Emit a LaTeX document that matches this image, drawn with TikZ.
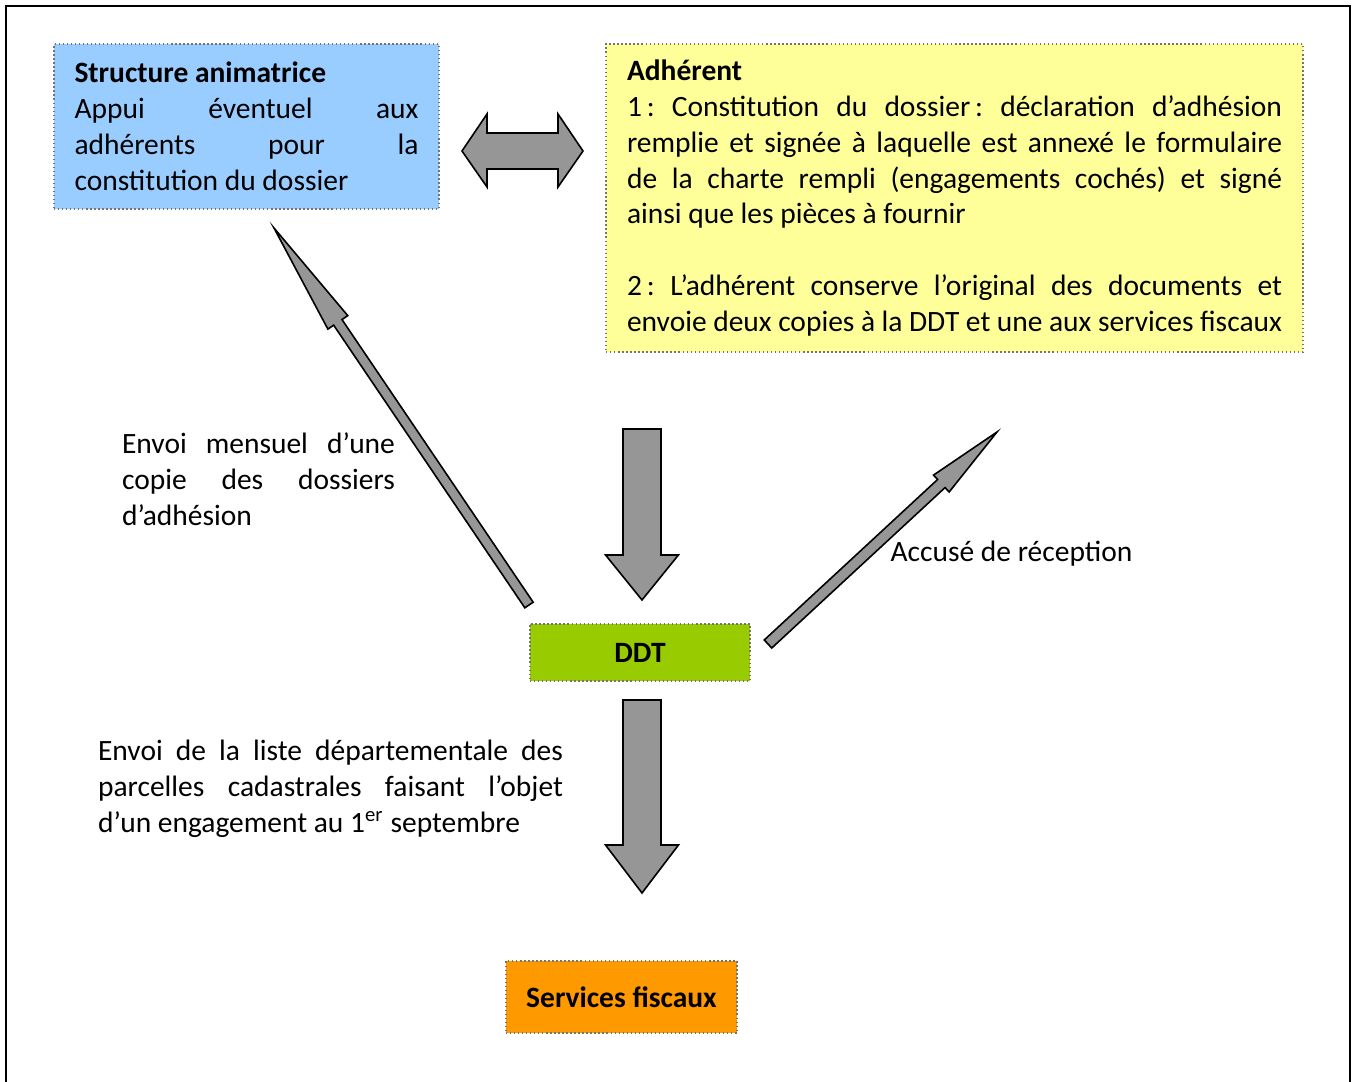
\documentclass[tikz,border=0pt]{standalone}
\usepackage{fontspec}
\setmainfont{Carlito}
\usetikzlibrary{calc}
\definecolor{animblue}{RGB}{153,204,255}
\definecolor{adhyellow}{RGB}{255,255,153}
\definecolor{ddtgreen}{RGB}{153,204,0}
\definecolor{fiscorange}{RGB}{255,153,0}
\definecolor{arrgray}{RGB}{150,150,150}
% one justified line of a fixed-width node
\newcommand{\jline}[1]{{\frenchspacing\spaceskip=0.23em plus 1fil minus 0.08em\makebox[\hsize][s]{#1}}}
% block arrow: tail, tip, shaft half width, head half width, head length
\newcommand{\blockarrow}[5]{%
  \coordinate (hb) at ($(#2)!#5!(#1)$);
  \draw[barrow] ($(#1)!#3!90:(#2)$) -- ($(hb)!#3!90:(#2)$) -- ($(hb)!#4!90:(#2)$)
    -- (#2) -- ($(hb)!#4!-90:(#2)$) -- ($(hb)!#3!-90:(#2)$) -- ($(#1)!#3!-90:(#2)$) -- cycle;
}

\begin{document}
\frenchspacing
\begin{tikzpicture}[x=0.373pt, y=-0.373pt,
      every node/.style={font=\fontsize{11}{13.4}\selectfont},
      box/.style={draw=black!55, densely dotted, line width=0.5pt, align=flush left},
      barrow/.style={fill=arrgray, draw=black, line width=0.6pt, line join=miter},
      txt/.style={inner sep=0pt, align=flush left},
      frame/.style={draw=black, line width=0.8pt}]
  \useasboundingbox (0,0) rectangle (1354,1082);
  \draw[frame] (6,1082) -- (6,6) -- (1350,6) -- (1350,1082);

  % boxes
  \node[box, fill=animblue, text width=128.3pt, inner xsep=7.65pt, minimum height=61.5pt]
    (anim) at (246.5,126.5) {{\bfseries Structure animatrice}\\
      \jline{Appui éventuel aux}\\
      \jline{adhérents pour la}\\
      constitution du dossier};
  \node[box, fill=adhyellow, text width=244.3pt, inner xsep=7.8pt, minimum height=114.9pt]
    (adh) at (954.5,198) {{\bfseries Adhérent}\\
      \jline{1\,: Constitution du dossier\,: déclaration d’adhésion}\\
      \jline{remplie et signée à laquelle est annexé le formulaire}\\
      \jline{de la charte rempli (engagements cochés) et signé}\\
      ainsi que les pièces à fournir\\[13.4pt]
      \jline{2\,: L’adhérent conserve l’original des documents et}\\
      \jline{envoie deux copies à la DDT et une aux services fiscaux}};
  \node[box, fill=ddtgreen, minimum width=82.1pt, minimum height=21.3pt, font=\fontsize{11}{13.4}\selectfont\bfseries]
    (ddt) at (640,652.5) {DDT};
  \node[box, fill=fiscorange, minimum width=86.2pt, minimum height=26.9pt, font=\fontsize{11}{13.4}\selectfont\bfseries]
    (fisc) at (621.5,997) {Services fiscaux};

  % labels
  \node[txt, text width=101.8pt] (envoi) at (258.5,479) {\jline{Envoi mensuel d’une}\\
      \jline{copie des dossiers}\\
      d’adhésion};
  \node[txt, anchor=west] (accuse) at (890,554) {Accusé de réception};
  \node[txt, text width=173.4pt] (liste) at (330.5,789) {\jline{Envoi de la liste départementale des}\\
      \jline{parcelles cadastrales faisant l’objet}\\
      d’un engagement au 1\textsuperscript{er} septembre};

  % block arrows
  \coordinate (dl) at (462,151);
  \coordinate (dr) at (583,151);
  \draw[barrow] (dl) -- ++(25,-37) -- ++(0,19) -- ++(71,0) -- ++(0,-19) -- (dr)
    -- ++(-25,36) -- ++(0,-18) -- ++(-71,0) -- ++(0,18) -- cycle;

  \coordinate (a1) at (642,429);
  \coordinate (b1) at (642,600);
  \blockarrow{a1}{b1}{7.09pt}{13.6pt}{16.8pt}

  \coordinate (a2) at (642,700);
  \coordinate (b2) at (642,893);
  \blockarrow{a2}{b2}{7.09pt}{13.6pt}{17.9pt}

  \coordinate (a3) at (529,605);
  \coordinate (b3) at (274,228);
  \blockarrow{a3}{b3}{1.87pt}{4.48pt}{42.5pt}

  \coordinate (a4) at (768,644);
  \coordinate (b4) at (997,432);
  \blockarrow{a4}{b4}{2.05pt}{4.29pt}{28.3pt}
\end{tikzpicture}
\end{document}
